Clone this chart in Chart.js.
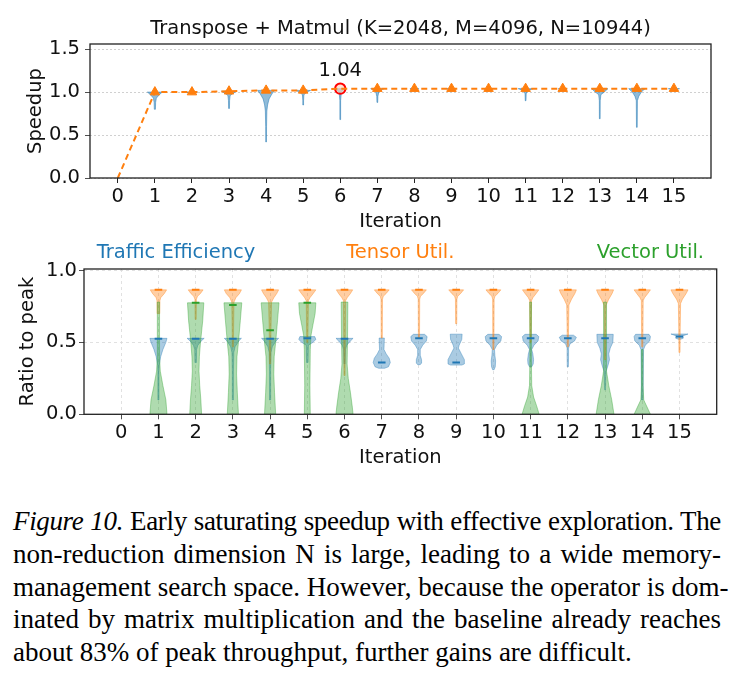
<!DOCTYPE html>
<html>
<head>
<meta charset="utf-8">
<script src="https://cdn.jsdelivr.net/npm/chart.js@4.4.1/dist/chart.umd.min.js"></script>
<style>
  body { margin: 0; background: #fff; width: 739px; height: 682px; position: relative; overflow: hidden; }
  #top { position: absolute; left: 0; top: 0; }
  #bottom { position: absolute; left: 0; top: 230px; }
  #caption { position: absolute; left: 13px; top: 505px; width: 708px; font-family: 'Liberation Serif', 'Times New Roman', serif; font-size: 27px; line-height: 32.8px; color: #000; }
  #caption div { text-align: justify; text-align-last: justify; white-space: nowrap; }
  #caption div.tight { letter-spacing: -0.35px; }
  #caption div.last { text-align-last: left; }
</style>
</head>
<body>
<canvas id="top" width="739" height="230"></canvas>
<canvas id="bottom" width="739" height="250"></canvas>
<div id="caption">
  <div class="tight"><i>Figure 10.</i> Early saturating speedup with effective exploration. The</div>
  <div>non-reduction dimension N is large, leading to a wide memory-</div>
  <div>management search space. However, because the operator is dom-</div>
  <div>inated by matrix multiplication and the baseline already reaches</div>
  <div class="last">about 83% of peak throughput, further gains are difficult.</div>
</div>
<script>
// ---------- data ----------
const iterations = [0, 1, 2, 3, 4, 5, 6, 7, 8, 9, 10, 11, 12, 13, 14, 15];
const speedup = [0, 1.0, 1.0, 1.01, 1.02, 1.02, 1.04, 1.04, 1.04, 1.04, 1.04, 1.04, 1.04, 1.04, 1.04, 1.04];
const bestIter = 6;
const bestSpeedup = 1.04;
const speedupTicks = [0, 0.5, 1.0, 1.5];
const ratioTicks = [0, 0.5, 1.0];

// violin outlines: [value, half width] from top to bottom, one per iteration
const speedupViolins = [
  null,
  [[1.0, 0.2], [0.97, 0.12], [0.93, 0.04], [0.88, 0.02], [0.80, 0.015]],
  [[1.0, 0.15], [0.99, 0.08], [0.98, 0.02]],
  [[1.01, 0.2], [0.99, 0.12], [0.96, 0.03], [0.9, 0.015], [0.81, 0.012]],
  [[1.02, 0.23], [0.98, 0.16], [0.92, 0.08], [0.85, 0.04], [0.78, 0.02], [0.6, 0.012], [0.42, 0.01]],
  [[1.02, 0.2], [1.0, 0.1], [0.97, 0.02], [0.9, 0.01], [0.85, 0.01]],
  [[1.04, 0.12], [1.0, 0.03], [0.9, 0.01], [0.68, 0.01]],
  [[1.04, 0.18], [1.02, 0.05], [0.95, 0.015], [0.88, 0.01]],
  [[1.04, 0.12], [1.03, 0.04]],
  [[1.04, 0.12], [1.03, 0.04]],
  [[1.04, 0.12], [1.03, 0.04]],
  [[1.04, 0.2], [1.02, 0.06], [0.98, 0.015], [0.9, 0.01]],
  [[1.04, 0.12], [1.03, 0.04]],
  [[1.04, 0.22], [1.0, 0.12], [0.97, 0.03], [0.9, 0.012], [0.69, 0.01]],
  [[1.04, 0.22], [1.0, 0.12], [0.95, 0.05], [0.9, 0.015], [0.59, 0.01]],
  [[1.04, 0.15], [1.03, 0.05]]
];

const trafficViolins = [
  null,
  [[0.528, 0.23], [0.5, 0.2], [0.45, 0.12], [0.4, 0.06], [0.34, 0.02], [0.3, 0.015], [0.1, 0.015]],
  [[0.528, 0.23], [0.51, 0.15], [0.48, 0.06], [0.45, 0.025], [0.36, 0.02]],
  [[0.528, 0.23], [0.51, 0.16], [0.47, 0.06], [0.43, 0.025], [0.3, 0.015], [0.1, 0.015]],
  [[0.528, 0.23], [0.51, 0.16], [0.47, 0.06], [0.43, 0.025], [0.3, 0.015], [0.1, 0.015]],
  [[0.54, 0.2], [0.52, 0.23], [0.5, 0.15], [0.48, 0.03], [0.36, 0.02]],
  [[0.528, 0.23], [0.51, 0.16], [0.48, 0.06], [0.45, 0.025], [0.35, 0.015]],
  [[0.53, 0.07], [0.45, 0.06], [0.42, 0.12], [0.39, 0.2], [0.36, 0.23], [0.33, 0.18], [0.32, 0.08]],
  [[0.556, 0.15], [0.54, 0.22], [0.51, 0.2], [0.48, 0.1], [0.45, 0.035], [0.41, 0.035], [0.38, 0.07], [0.355, 0.07], [0.345, 0.03]],
  [[0.557, 0.16], [0.52, 0.15], [0.48, 0.08], [0.46, 0.06], [0.42, 0.14], [0.38, 0.22], [0.35, 0.22], [0.342, 0.15]],
  [[0.556, 0.15], [0.54, 0.22], [0.51, 0.2], [0.48, 0.09], [0.45, 0.03], [0.41, 0.04], [0.37, 0.06], [0.33, 0.05], [0.31, 0.02]],
  [[0.556, 0.15], [0.54, 0.22], [0.51, 0.2], [0.48, 0.09], [0.45, 0.03], [0.42, 0.06], [0.38, 0.08], [0.35, 0.07], [0.33, 0.03]],
  [[0.55, 0.15], [0.535, 0.23], [0.51, 0.18], [0.49, 0.06], [0.46, 0.02], [0.4, 0.02], [0.33, 0.015]],
  [[0.556, 0.22], [0.5, 0.21], [0.46, 0.14], [0.42, 0.1], [0.38, 0.12], [0.34, 0.08], [0.3, 0.03], [0.2, 0.015], [0.17, 0.01]],
  [[0.556, 0.18], [0.54, 0.22], [0.51, 0.2], [0.48, 0.08], [0.45, 0.035], [0.35, 0.03], [0.2, 0.025], [0.1, 0.02]],
  [[0.558, 0.23], [0.548, 0.12], [0.54, 0.06], [0.535, 0.1], [0.528, 0.1], [0.522, 0.03]]
];
const trafficMedians = [null, 0.525, 0.525, 0.525, 0.525, 0.528, 0.525, 0.36, 0.528, 0.36, 0.528, 0.528, 0.528, 0.528, 0.528, 0.54];

const tensorViolins = [
  null,
  [[0.865, 0.22], [0.84, 0.16], [0.81, 0.06], [0.79, 0.04], [0.7, 0.035]],
  [[0.865, 0.2], [0.84, 0.13], [0.82, 0.05], [0.8, 0.02], [0.66, 0.015]],
  [[0.865, 0.23], [0.84, 0.18], [0.81, 0.08], [0.78, 0.03], [0.6, 0.02], [0.47, 0.015]],
  [[0.865, 0.23], [0.84, 0.18], [0.81, 0.1], [0.78, 0.04], [0.6, 0.025], [0.35, 0.015]],
  [[0.865, 0.23], [0.84, 0.16], [0.81, 0.07], [0.79, 0.03], [0.6, 0.02], [0.5, 0.015]],
  [[0.865, 0.22], [0.84, 0.16], [0.81, 0.07], [0.79, 0.03], [0.5, 0.02], [0.27, 0.015]],
  [[0.865, 0.2], [0.84, 0.12], [0.82, 0.04], [0.8, 0.02], [0.53, 0.015]],
  [[0.865, 0.2], [0.84, 0.12], [0.82, 0.04], [0.8, 0.02], [0.53, 0.015]],
  [[0.865, 0.2], [0.84, 0.12], [0.82, 0.04], [0.8, 0.02], [0.63, 0.015]],
  [[0.865, 0.2], [0.84, 0.12], [0.82, 0.04], [0.8, 0.02], [0.45, 0.015]],
  [[0.865, 0.22], [0.84, 0.15], [0.81, 0.06], [0.79, 0.025], [0.5, 0.015]],
  [[0.865, 0.23], [0.84, 0.19], [0.8, 0.1], [0.76, 0.03], [0.6, 0.02], [0.47, 0.015]],
  [[0.865, 0.23], [0.84, 0.19], [0.8, 0.1], [0.76, 0.03], [0.6, 0.02], [0.38, 0.015]],
  [[0.865, 0.22], [0.84, 0.15], [0.81, 0.06], [0.79, 0.025], [0.6, 0.02], [0.47, 0.015]],
  [[0.865, 0.23], [0.84, 0.18], [0.8, 0.08], [0.77, 0.03], [0.6, 0.02], [0.43, 0.015]]
];
const tensorMedians = [null, 0.865, 0.865, 0.865, 0.865, 0.865, 0.865, 0.865, 0.865, 0.865, 0.865, 0.865, 0.865, 0.865, 0.865, 0.865];

const vectorViolins = [
  null,
  [[0.78, 0.03], [0.6, 0.03], [0.4, 0.03], [0.3, 0.05], [0.2, 0.12], [0.1, 0.2], [0.0, 0.23]],
  [[0.775, 0.22], [0.65, 0.19], [0.5, 0.13], [0.4, 0.1], [0.3, 0.09], [0.2, 0.11], [0.1, 0.14], [0.0, 0.16]],
  [[0.775, 0.24], [0.65, 0.2], [0.5, 0.15], [0.4, 0.11], [0.28, 0.1], [0.15, 0.12], [0.0, 0.15]],
  [[0.775, 0.24], [0.65, 0.2], [0.5, 0.15], [0.4, 0.11], [0.28, 0.1], [0.15, 0.12], [0.0, 0.15]],
  [[0.775, 0.23], [0.7, 0.21], [0.62, 0.15], [0.55, 0.1], [0.45, 0.08], [0.2, 0.07], [0.0, 0.08]],
  [[0.78, 0.09], [0.5, 0.08], [0.35, 0.07], [0.25, 0.1], [0.15, 0.16], [0.05, 0.21], [0.0, 0.23]],
  null, null, null, null,
  [[0.78, 0.025], [0.4, 0.02], [0.2, 0.03], [0.12, 0.08], [0.06, 0.16], [0.0, 0.23]],
  null,
  [[0.78, 0.04], [0.5, 0.04], [0.3, 0.04], [0.2, 0.1], [0.1, 0.18], [0.0, 0.24]],
  [[0.45, 0.02], [0.2, 0.02], [0.1, 0.04], [0.05, 0.13], [0.0, 0.22]],
  null
];
const vectorMedians = [null, null, 0.775, 0.76, 0.585, 0.775, null, null, null, null, null, null, null, null, null, null];

const panelLabels = ['Traffic Efficiency', 'Tensor Util.', 'Vector Util.'];
const panelColors = ['#1f77b4', '#ff7f0e', '#2ca02c'];

// ---------- helpers ----------
const FS = 19.5;
Chart.defaults.font.family = "'DejaVu Sans', sans-serif";
Chart.defaults.font.size = FS;
Chart.defaults.color = '#111';

const rgba = (hex, a) => {
  const n = parseInt(hex.slice(1), 16);
  return `rgba(${n >> 16},${(n >> 8) & 255},${n & 255},${a})`;
};

// draws violin bodies through the chart scales
const violinPlugin = {
  id: 'violins',
  beforeDatasetsDraw(chart, args, opts) {
    const { ctx, chartArea: a, scales: { x, y } } = chart;
    ctx.save();
    ctx.beginPath();
    ctx.rect(a.left, a.top, a.width, a.height);
    ctx.clip();
    for (const s of opts.series) {
      s.profiles.forEach((prof, i) => {
        if (!prof) return;
        const xi = iterations[i];
        ctx.beginPath();
        prof.forEach(([v, w], k) => {
          const px = x.getPixelForValue(xi + w), py = y.getPixelForValue(v);
          if (k) ctx.lineTo(px, py); else ctx.moveTo(px, py);
        });
        for (let k = prof.length - 1; k >= 0; k--) {
          const [v, w] = prof[k];
          ctx.lineTo(x.getPixelForValue(xi - w), y.getPixelForValue(v));
        }
        ctx.closePath();
        ctx.fillStyle = rgba(s.color, s.alpha);
        ctx.fill();
        ctx.strokeStyle = rgba(s.color, s.alpha);
        ctx.lineWidth = 1;
        ctx.stroke();
      });
    }
    ctx.restore();
  }
};

// axes box like matplotlib spines
const framePlugin = {
  id: 'frame',
  afterDraw(chart) {
    const { ctx, chartArea: a } = chart;
    ctx.save();
    ctx.strokeStyle = '#222';
    ctx.lineWidth = 1.3;
    ctx.strokeRect(a.left, a.top, a.width, a.height);
    ctx.restore();
  }
};

const medianSet = (vals, color) => ({
  data: vals.map((v, i) => v == null ? null : { x: iterations[i], y: v }).filter(Boolean),
  pointStyle: 'line',
  pointRadius: 3.8,
  pointBorderWidth: 2,
  pointBorderColor: color,
  pointBackgroundColor: color
});

// ---------- top chart ----------
new Chart(document.getElementById('top'), {
  type: 'scatter',
  plugins: [violinPlugin, framePlugin, {
    id: 'bestLabel',
    afterDatasetsDraw(chart) {
      const { ctx, scales: { x, y } } = chart;
      ctx.save();
      ctx.font = FS + "px 'DejaVu Sans'";
      ctx.fillStyle = '#111';
      ctx.textAlign = 'center';
      ctx.textBaseline = 'middle';
      ctx.fillText(bestSpeedup.toFixed(2), x.getPixelForValue(bestIter), y.getPixelForValue(bestSpeedup) - 18);
      ctx.restore();
    }
  }],
  data: {
    datasets: [
      {
        data: speedup.map((v, i) => ({ x: iterations[i], y: v })),
        showLine: true,
        borderColor: '#ff7f0e',
        borderWidth: 2,
        borderDash: [6, 4],
        pointStyle: 'triangle',
        pointRadius: c => (c.dataIndex === 0 || iterations[c.dataIndex] === bestIter) ? 0 : 5.5,
        pointBackgroundColor: '#ff7f0e',
        pointBorderColor: '#ff7f0e',
        pointBorderWidth: 1
      },
      {
        data: [{ x: bestIter, y: bestSpeedup }],
        pointStyle: 'circle',
        pointRadius: 5.2,
        pointBorderWidth: 2,
        pointBorderColor: '#ff0000',
        pointBackgroundColor: 'rgba(255,210,180,0.6)'
      }
    ]
  },
  options: {
    responsive: false,
    animation: false,
    layout: { padding: { left: 0, right: 28, top: 0, bottom: 0 } },
    plugins: {
      legend: { display: false },
      tooltip: { enabled: false },
      title: {
        display: true,
        fullSize: false,
        text: 'Transpose + Matmul (K=2048, M=4096, N=10944)',
        font: { size: FS, weight: 'normal' },
        color: '#111',
        padding: { top: 17.3, bottom: 3.3 }
      },
      violins: { series: [{ profiles: speedupViolins, color: '#1f77b4', alpha: 0.5 }] }
    },
    scales: {
      x: {
        type: 'linear',
        min: -0.75,
        max: 16,
        afterBuildTicks: s => { s.ticks = iterations.map(v => ({ value: v })); },
        afterFit: s => { s.height = 52; },
        grid: { drawOnChartArea: false, tickLength: 5, tickColor: '#222' },
        border: { display: false },
        ticks: { padding: 2, autoSkip: false, maxRotation: 0 },
        title: { display: true, text: 'Iteration', padding: { top: 0, bottom: -3.7 } }
      },
      y: {
        min: 0,
        max: 1.56,
        afterBuildTicks: s => { s.ticks = speedupTicks.map(v => ({ value: v })); },
        afterFit: s => { s.width = 90; },
        grid: { color: '#c4c4c4', lineWidth: 0.8, tickColor: '#222', tickLength: 5 },
        border: { display: false, dash: [2, 2] },
        ticks: { padding: 5, callback: v => v.toFixed(1) },
        title: { display: true, text: 'Speedup', padding: { top: 24.3 } }
      }
    }
  }
});

// ---------- bottom chart ----------
new Chart(document.getElementById('bottom'), {
  type: 'scatter',
  plugins: [violinPlugin, framePlugin, {
    id: 'panelLabels',
    afterDraw(chart) {
      const { ctx, chartArea: a } = chart;
      const spots = [[a.left + 0.02 * a.width, 'left'], [a.left + 0.5 * a.width, 'center'], [a.left + 0.98 * a.width, 'right']];
      ctx.save();
      ctx.font = FS + "px 'DejaVu Sans'";
      ctx.textBaseline = 'middle';
      panelLabels.forEach((t, i) => {
        ctx.fillStyle = panelColors[i];
        ctx.textAlign = spots[i][1];
        ctx.fillText(t, spots[i][0], a.top - 16);
      });
      ctx.restore();
    }
  }],
  data: {
    datasets: [
      medianSet(trafficMedians, '#1f77b4'),
      medianSet(tensorMedians, '#ff7f0e'),
      medianSet(vectorMedians, '#2ca02c')
    ]
  },
  options: {
    responsive: false,
    animation: false,
    layout: { padding: { left: 0, right: 22.3, top: 39, bottom: 0 } },
    plugins: {
      legend: { display: false },
      tooltip: { enabled: false },
      violins: {
        series: [
          { profiles: trafficViolins, color: '#1f77b4', alpha: 0.38 },
          { profiles: tensorViolins, color: '#ff7f0e', alpha: 0.38 },
          { profiles: vectorViolins, color: '#2ca02c', alpha: 0.38 }
        ]
      }
    },
    scales: {
      x: {
        type: 'linear',
        min: -1,
        max: 16,
        afterBuildTicks: s => { s.ticks = iterations.map(v => ({ value: v })); },
        afterFit: s => { s.height = 65.7; },
        grid: { color: '#dadada', lineWidth: 0.8, tickColor: '#222', tickLength: 5 },
        border: { display: false, dash: [3, 3] },
        ticks: { padding: 2, autoSkip: false, maxRotation: 0 },
        title: { display: true, text: 'Iteration', padding: { top: 0, bottom: 10.5 } }
      },
      y: {
        min: 0,
        max: 1.01,
        afterBuildTicks: s => { s.ticks = ratioTicks.map(v => ({ value: v })); },
        afterFit: s => { s.width = 84; },
        grid: { color: '#dadada', lineWidth: 0.8, tickColor: '#222', tickLength: 5 },
        border: { display: false, dash: [3, 3] },
        ticks: { padding: 2, callback: v => v.toFixed(1) },
        title: { display: true, text: 'Ratio to peak', padding: { top: 16.3 } }
      }
    }
  }
});
</script>
</body>
</html>
